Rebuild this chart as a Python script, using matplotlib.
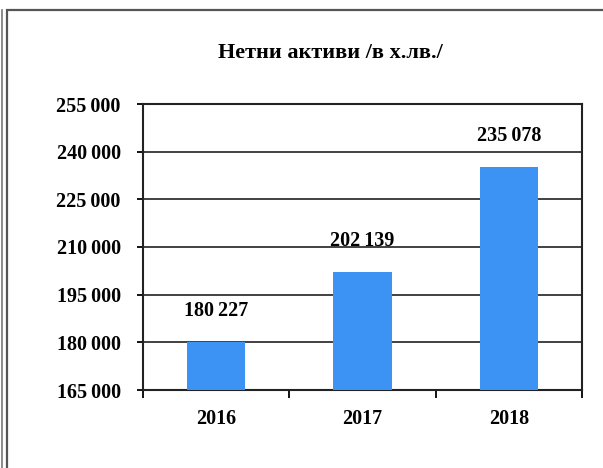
import matplotlib
matplotlib.use("Agg")
import matplotlib.pyplot as plt
from matplotlib.ticker import FuncFormatter, FixedLocator
from matplotlib.patches import Rectangle
from matplotlib.lines import Line2D

title = "Нетни активи /в х.лв./"
years = ["2016", "2017", "2018"]
values = [180227, 202139, 235078]
y_min, y_max, y_step = 165000, 255000, 15000

plt.rcParams["font.family"] = ["Liberation Serif", "DejaVu Serif"]
plt.rcParams["font.weight"] = "bold"

def fmt(v):
    return f"{v:,.0f}".replace(",", "\u2009")

fig = plt.figure(figsize=(6.03, 4.68), dpi=100)
fig.patch.set_facecolor("white")

# outer chart border
fig.add_artist(Rectangle((7 / 603, -0.05), 1.1, 1 - 10 / 468 + 0.05,
                         transform=fig.transFigure, fill=False,
                         edgecolor="#555555", lw=1.6))
fig.add_artist(Line2D([1.5 / 603, 1.5 / 603], [0, 1 - 10 / 468],
                      transform=fig.transFigure, color="#777777", lw=1.2))

ax = fig.add_axes([143 / 603, 1 - 390 / 468, (582 - 143) / 603, (390 - 104) / 468])
x = list(range(len(years)))
ax.bar(x, values, width=0.4, color="#3c93f4", zorder=3)

ax.set_xlim(-0.5, len(years) - 0.5)
ax.set_ylim(y_min, y_max)
ax.set_yticks(list(range(y_min, y_max + 1, y_step)))
ax.yaxis.set_major_formatter(FuncFormatter(lambda v, p: fmt(v)))
ax.yaxis.grid(True, color="#333333", lw=1.3, zorder=1)

ax.set_xticks(x)
ax.set_xticklabels(years)
ax.xaxis.set_minor_locator(FixedLocator([i - 0.5 for i in range(len(years) + 1)]))
ax.tick_params(axis="x", which="major", length=0, pad=14, labelsize=14.5)
ax.tick_params(axis="x", which="minor", length=6, width=1.3, direction="out")
ax.tick_params(axis="y", which="major", length=4, width=1.3, pad=12, labelsize=14.5)

for s in ax.spines.values():
    s.set_linewidth(1.5)
    s.set_color("#222222")

for xi, v in zip(x, values):
    ax.annotate(fmt(v), (xi, v), xytext=(0, 15),
                textcoords="offset points", ha="center", va="bottom", fontsize=14.5)

fig.text(330 / 603, 1 - 53 / 468, title, ha="center", va="center", fontsize=16)

fig.savefig("out.png", dpi=100)
